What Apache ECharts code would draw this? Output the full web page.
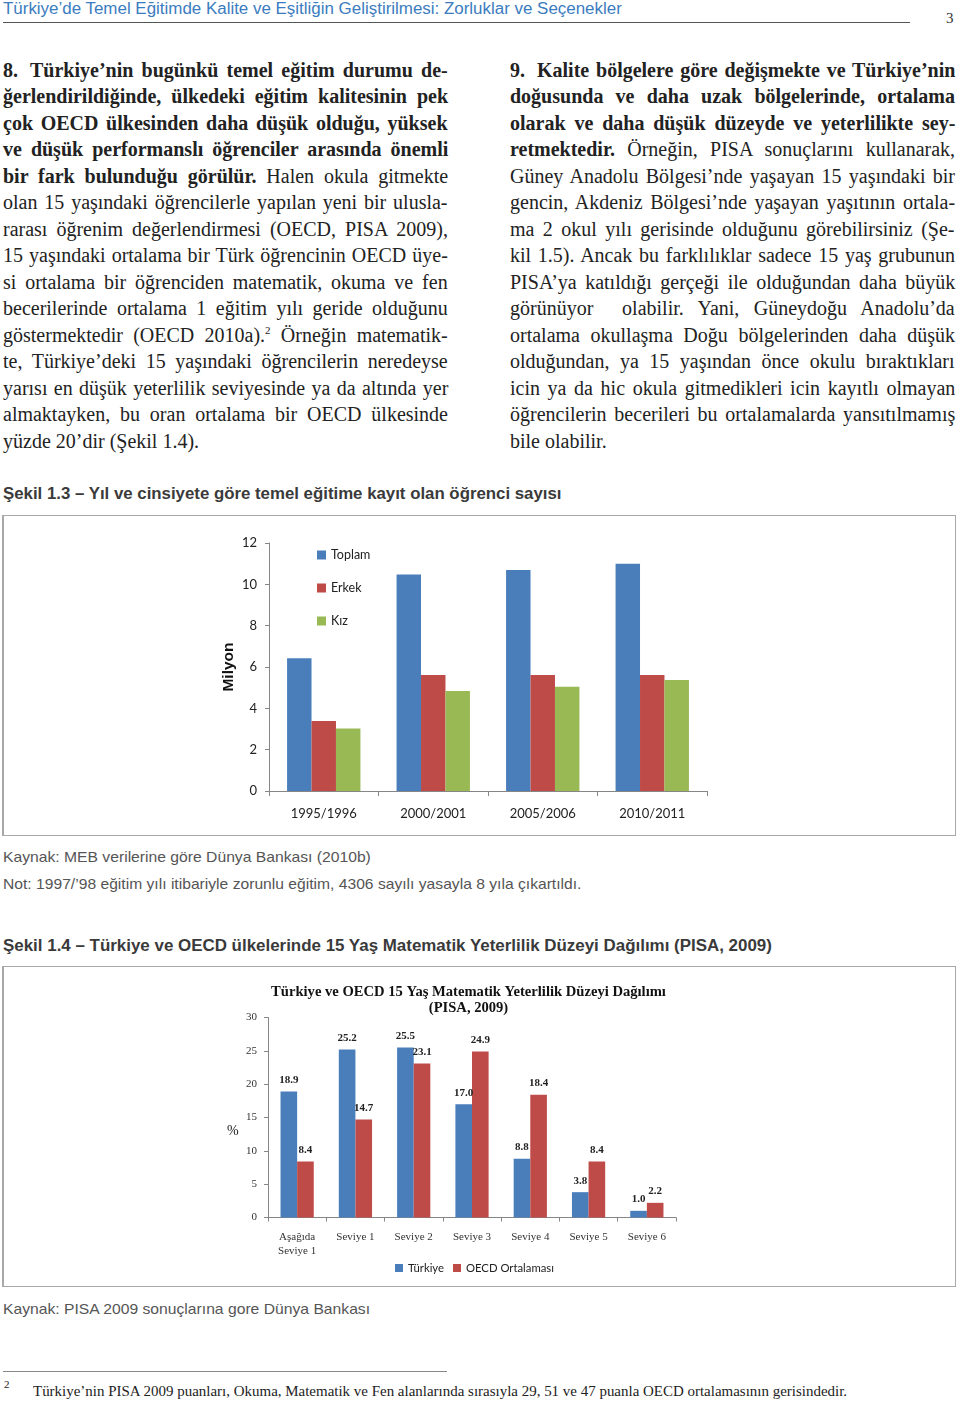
<!DOCTYPE html>
<html><head><meta charset="utf-8">
<script src="https://cdn.jsdelivr.net/npm/echarts@6/dist/echarts.min.js"></script>
<style>
html,body{margin:0;padding:0;background:#fff;}
body{width:960px;height:1402px;position:relative;overflow:hidden;}
.abs{position:absolute;}
.fit{white-space:nowrap;}
.fit>span{display:inline-block;white-space:nowrap;transform-origin:0 50%;}
.col{position:absolute;top:56.75px;font-family:"Liberation Serif","Times New Roman",serif;font-size:20px;line-height:26.5px;color:#222;transform-origin:0 0;}
.ln{white-space:nowrap;height:26.5px;}
.ln>span{display:inline-block;white-space:nowrap;transform-origin:0 50%;}
.sp{display:inline-block;width:12px;}
sup{font-size:11px;line-height:0;vertical-align:8px;}
.cap{font-family:"Liberation Sans",Arial,sans-serif;font-weight:bold;font-size:16px;color:#3a3a3a;line-height:20px;}
.src{font-family:"Liberation Sans",Arial,sans-serif;font-size:15px;color:#555;line-height:20px;}
.box{position:absolute;left:2px;width:954px;height:321px;border:1px solid #a8a8a8;border-left:2px solid #a8a8a8;box-sizing:border-box;}
</style></head>
<body>
<div class="abs fit" data-w="619" style="left:3px;top:0px;font-family:'Liberation Sans',Arial,sans-serif;font-size:16px;line-height:18px;color:#3b7cc0;"><span>Türkiye’de Temel Eğitimde Kalite ve Eşitliğin Geliştirilmesi: Zorluklar ve Seçenekler</span></div>
<div class="abs" style="left:3px;top:22px;width:907px;height:1px;background:#555;"></div>
<div class="abs" style="left:946px;top:9px;font-family:'Liberation Serif',serif;font-size:15px;line-height:18px;color:#333;">3</div>

<div class="col" id="colL" style="left:3px;">
<div class="ln j"><span><b>8.<span class="sp"></span>Türkiye’nin bugünkü temel eğitim durumu de-</b></span></div>
<div class="ln j"><span><b>ğerlendirildiğinde, ülkedeki eğitim kalitesinin pek</b></span></div>
<div class="ln j"><span><b>çok OECD ülkesinden daha düşük olduğu, yüksek</b></span></div>
<div class="ln j"><span><b>ve düşük performanslı öğrenciler arasında önemli</b></span></div>
<div class="ln j"><span><b>bir fark bulunduğu görülür.</b> Halen okula gitmekte</span></div>
<div class="ln j"><span>olan 15 yaşındaki öğrencilerle yapılan yeni bir ulusla-</span></div>
<div class="ln j"><span>rarası öğrenim değerlendirmesi (OECD, PISA 2009),</span></div>
<div class="ln j"><span>15 yaşındaki ortalama bir Türk öğrencinin OECD üye-</span></div>
<div class="ln j"><span>si ortalama bir öğrenciden matematik, okuma ve fen</span></div>
<div class="ln j"><span>becerilerinde ortalama 1 eğitim yılı geride olduğunu</span></div>
<div class="ln j"><span>göstermektedir (OECD 2010a).<sup>2</sup> Örneğin matematik-</span></div>
<div class="ln j"><span>te, Türkiye’deki 15 yaşındaki öğrencilerin neredeyse</span></div>
<div class="ln j"><span>yarısı en düşük yeterlilik seviyesinde ya da altında yer</span></div>
<div class="ln j"><span>almaktayken, bu oran ortalama bir OECD ülkesinde</span></div>
<div class="ln"><span>yüzde 20’dir (Şekil 1.4).</span></div>
</div>

<div class="col" id="colR" style="left:510px;">
<div class="ln j"><span><b>9.<span class="sp"></span>Kalite bölgelere göre değişmekte ve Türkiye’nin</b></span></div>
<div class="ln j"><span><b>doğusunda ve daha uzak bölgelerinde, ortalama</b></span></div>
<div class="ln j"><span><b>olarak ve daha düşük düzeyde ve yeterlilikte sey-</b></span></div>
<div class="ln j"><span><b>retmektedir.</b> Örneğin, PISA sonuçlarını kullanarak,</span></div>
<div class="ln j"><span>Güney Anadolu Bölgesi’nde yaşayan 15 yaşındaki bir</span></div>
<div class="ln j"><span>gencin, Akdeniz Bölgesi’nde yaşayan yaşıtının ortala-</span></div>
<div class="ln j"><span>ma 2 okul yılı gerisinde olduğunu görebilirsiniz (Şe-</span></div>
<div class="ln j"><span>kil 1.5). Ancak bu farklılıklar sadece 15 yaş grubunun</span></div>
<div class="ln j"><span>PISA’ya katıldığı gerçeği ile olduğundan daha büyük</span></div>
<div class="ln j"><span>görünüyor &nbsp;olabilir. Yani, Güneydoğu Anadolu’da</span></div>
<div class="ln j"><span>ortalama okullaşma Doğu bölgelerinden daha düşük</span></div>
<div class="ln j"><span>olduğundan, ya 15 yaşından önce okulu bıraktıkları</span></div>
<div class="ln j"><span>icin ya da hic okula gitmedikleri icin kayıtlı olmayan</span></div>
<div class="ln j"><span>öğrencilerin becerileri bu ortalamalarda yansıtılmamış</span></div>
<div class="ln"><span>bile olabilir.</span></div>
</div>

<div class="abs cap fit" data-w="559" style="left:3px;top:484px;"><span>Şekil 1.3 – Yıl ve cinsiyete göre temel eğitime kayıt olan öğrenci sayısı</span></div>
<div class="box" style="top:515px;"></div>
<div id="c1" class="abs" style="left:3px;top:516px;width:954px;height:321px;"></div>
<div class="abs src fit" data-w="368" style="left:3px;top:847px;"><span>Kaynak: MEB verilerine göre Dünya Bankası (2010b)</span></div>
<div class="abs src fit" data-w="578" style="left:3px;top:874px;"><span>Not: 1997/’98 eğitim yılı itibariyle zorunlu eğitim, 4306 sayılı yasayla 8 yıla çıkartıldı.</span></div>

<div class="abs cap fit" data-w="769" style="left:3px;top:936px;"><span>Şekil 1.4 – Türkiye ve OECD ülkelerinde 15 Yaş Matematik Yeterlilik Düzeyi Dağılımı (PISA, 2009)</span></div>
<div class="box" style="top:966px;"></div>
<div id="c2" class="abs" style="left:3px;top:967px;width:954px;height:321px;"></div>
<div class="abs src fit" data-w="367" style="left:3px;top:1299px;"><span>Kaynak: PISA 2009 sonuçlarına gore Dünya Bankası</span></div>

<div class="abs" style="left:3px;top:1371px;width:444px;height:1px;background:#888;"></div>
<div class="abs" style="left:4px;top:1378px;font-family:'Liberation Serif',serif;font-size:11px;line-height:12px;color:#222;">2</div>
<div class="abs fit" data-w="814" style="left:33px;top:1382px;font-family:'Liberation Serif',serif;font-size:15px;line-height:18px;color:#222;"><span>Türkiye’nin PISA 2009 puanları, Okuma, Matematik ve Fen alanlarında sırasıyla 29, 51 ve 47 puanla OECD ortalamasının gerisindedir.</span></div>

<script>
// ---------- data ----------
const years = ['1995/1996', '2000/2001', '2005/2006', '2010/2011'];
const toplam = [6.42, 10.48, 10.69, 11.0];
const erkek = [3.39, 5.61, 5.61, 5.61];
const kiz = [3.03, 4.84, 5.05, 5.37];
const seriesNames1 = ['Toplam', 'Erkek', 'Kız'];

const levels = ['Aşağıda\nSeviye 1', 'Seviye 1', 'Seviye 2', 'Seviye 3', 'Seviye 4', 'Seviye 5', 'Seviye 6'];
const turkiye = [18.9, 25.2, 25.5, 17.0, 8.8, 3.8, 1.0];
const oecd = [8.4, 14.7, 23.1, 24.9, 18.4, 8.4, 2.2];
const seriesNames2 = ['Türkiye', 'OECD Ortalaması'];

// ---------- text fitting ----------
const COND = 1.0, COLW = 445;
document.querySelectorAll('.col').forEach(col => {
  col.style.transform = 'scaleX(' + COND + ')';
  const tw = COLW / COND;
  col.style.width = tw + 'px';
  col.querySelectorAll('.ln').forEach(ln => {
    ln.style.width = tw + 'px';
    if (!ln.classList.contains('j')) return;
    const inner = ln.firstElementChild;
    const nat = inner.offsetWidth;
    const n = (inner.textContent.match(/[ \u00a0]/g) || []).length;
    if (nat <= tw && n > 0) {
      inner.style.wordSpacing = ((tw - nat) / n) + 'px';
    } else if (nat > tw) {
      inner.style.transform = 'scaleX(' + (tw / nat) + ')';
    }
  });
});
document.querySelectorAll('.fit').forEach(el => {
  const w = parseFloat(el.dataset.w);
  const inner = el.firstElementChild;
  const nat = inner.offsetWidth;
  inner.style.transform = 'scaleX(' + (w / nat) + ')';
});

// ---------- chart 1 ----------
const axisGray = '#868686';
const c1 = echarts.init(document.getElementById('c1'));
c1.setOption({
  animation: false,
  color: ['#4a7ebb', '#be4b48', '#98b954'],
  grid: { left: 266, right: 250, top: 27, bottom: 46, containLabel: false },
  legend: {
    orient: 'vertical', left: 314, top: 32, padding: 0,
    itemWidth: 9, itemHeight: 9, itemGap: 19, icon: 'rect',
    textStyle: { fontFamily: 'Lato', fontSize: 12.5, lineHeight: 14, color: '#222' },
    data: seriesNames1
  },
  xAxis: {
    type: 'category', data: years,
    axisLine: { lineStyle: { color: axisGray } },
    axisTick: { show: true, length: 5, lineStyle: { color: axisGray } },
    axisLabel: { margin: 16, fontFamily: 'Lato', fontSize: 13, color: '#222' }
  },
  yAxis: {
    type: 'value', min: 0, max: 12, interval: 2,
    name: 'Milyon', nameLocation: 'middle', nameGap: 32, nameRotate: 90,
    nameTextStyle: { fontFamily: 'Liberation Sans', fontWeight: 'bold', fontSize: 15.5, color: '#111' },
    splitLine: { show: false },
    axisLine: { show: true, lineStyle: { color: axisGray } },
    axisTick: { show: true, length: 4, lineStyle: { color: axisGray } },
    axisLabel: { margin: 12, fontFamily: 'Lato', fontSize: 13, color: '#222' }
  },
  series: [
    { name: seriesNames1[0], type: 'bar', data: toplam, barGap: '0%', barCategoryGap: '33%' },
    { name: seriesNames1[1], type: 'bar', data: erkek, barGap: '0%', barCategoryGap: '33%' },
    { name: seriesNames1[2], type: 'bar', data: kiz, barGap: '0%', barCategoryGap: '33%' }
  ]
});

// ---------- chart 2 ----------
const c2 = echarts.init(document.getElementById('c2'));
const lbl = {
  show: true, position: 'top', distance: 6,
  fontFamily: 'Liberation Serif', fontWeight: 'bold', fontSize: 11, color: '#222',
  formatter: p => p.value.toFixed(1)
};
c2.setOption({
  animation: false,
  color: ['#4a7ebb', '#be4b48'],
  title: {
    text: 'Türkiye ve OECD 15 Yaş Matematik Yeterlilik Düzeyi Dağılımı\n(PISA, 2009)',
    left: 465.5, top: 17, padding: 0, textAlign: 'center',
    textStyle: { fontFamily: 'Liberation Serif', fontWeight: 'bold', fontSize: 14.6, lineHeight: 16, color: '#111' }
  },
  grid: { left: 265, right: 281, top: 50.5, bottom: 70.5, containLabel: false },
  legend: {
    left: 392, top: 294, padding: 0, itemWidth: 8, itemHeight: 8, itemGap: 9, icon: 'rect',
    textStyle: { fontFamily: 'Lato', fontSize: 11.3, lineHeight: 14, color: '#222' },
    data: seriesNames2
  },
  graphic: [{
    type: 'text', left: 224, top: 157,
    style: { text: '%', fontFamily: 'Liberation Serif', fontSize: 14, fill: '#222' }
  }],
  xAxis: {
    type: 'category', data: levels,
    axisLine: { lineStyle: { color: axisGray } },
    axisTick: { show: true, length: 4, lineStyle: { color: axisGray } },
    axisLabel: { margin: 13, fontFamily: 'Liberation Serif', fontSize: 11, lineHeight: 14, color: '#333', interval: 0 }
  },
  yAxis: {
    type: 'value', min: 0, max: 30, interval: 5,
    splitLine: { show: false },
    axisLine: { show: true, lineStyle: { color: axisGray } },
    axisTick: { show: true, length: 4, lineStyle: { color: axisGray } },
    axisLabel: { margin: 11, fontFamily: 'Liberation Serif', fontSize: 11, color: '#333' }
  },
  series: [
    { name: seriesNames2[0], type: 'bar', data: turkiye, barGap: '0%', barCategoryGap: '43%', label: lbl },
    { name: seriesNames2[1], type: 'bar', data: oecd, barGap: '0%', barCategoryGap: '43%', label: lbl }
  ]
});
</script>
</body></html>
